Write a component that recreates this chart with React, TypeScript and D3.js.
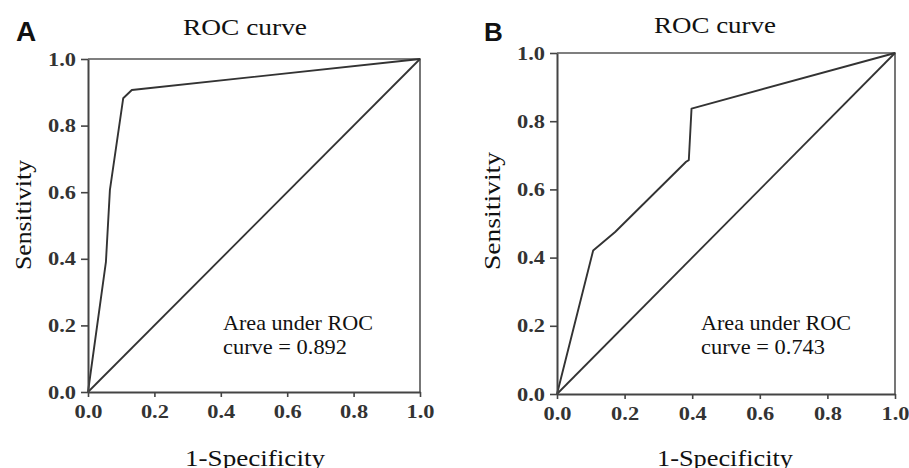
import React, { useRef, useEffect } from "react";
import * as d3 from "d3";

// ROC points (1-specificity, sensitivity)
const fprA = [0, 0.054, 0.066, 0.106, 0.132, 1];
const tprA = [0, 0.391, 0.607, 0.882, 0.907, 1];
const fprB = [0, 0.107, 0.172, 0.382, 0.39, 0.398, 1];
const tprB = [0, 0.421, 0.475, 0.681, 0.686, 0.837, 1];
const aucValues = [0.892, 0.743];
const panelLetters = ["A", "B"];
const axisTicks = [0, 0.2, 0.4, 0.6, 0.8, 1.0];
const titleText = "ROC curve";
const xLabel = "1-Specificity";
const yLabel = "Sensitivity";

const SERIF = "'Liberation Serif', 'Times New Roman', serif";
const INK = "#333";

// pixel placement of each panel's plot area
const panels = [
  { left: 88, right: 420, top: 59, bottom: 392, fpr: fprA, tpr: tprA, letterX: 16, letterY: 41, letterSize: 28, titleX: 183, titleW: 124, titleY: 35, ylabX: 31, ylabY: 215, ylabW: 110, xlabX: 185, xlabW: 140, annX: 223 },
  { left: 557, right: 895, top: 53, bottom: 394, fpr: fprB, tpr: tprB, letterX: 484, letterY: 41, letterSize: 26, titleX: 654, titleW: 122, titleY: 33, ylabX: 500, ylabY: 211, ylabW: 118, xlabX: 657, xlabW: 136, annX: 701 },
];

export default function App() {
  const ref = useRef<SVGSVGElement | null>(null);

  useEffect(() => {
    if (!ref.current) return;
    const svg = d3.select(ref.current);
    svg.selectAll("*").remove();

    panels.forEach((p, i) => {
      const x = d3.scaleLinear().domain([0, 1]).range([p.left, p.right]);
      const y = d3.scaleLinear().domain([0, 1]).range([p.bottom, p.top]);
      const g = svg.append("g");

      // frame top + right
      g.append("path")
        .attr("d", `M${x(0)},${y(1)}H${x(1)}V${y(0)}`)
        .attr("fill", "none")
        .attr("stroke", "#555")
        .attr("stroke-width", 1.6);

      // reference diagonal
      g.append("line")
        .attr("x1", x(0))
        .attr("y1", y(0))
        .attr("x2", x(1))
        .attr("y2", y(1))
        .attr("stroke", INK)
        .attr("stroke-width", 1.8);

      // ROC curve
      const pts = p.fpr.map((f, k) => [f, p.tpr[k]] as [number, number]);
      const line = d3
        .line<[number, number]>()
        .x((d) => x(d[0]))
        .y((d) => y(d[1]));
      g.append("path")
        .attr("d", line(pts))
        .attr("fill", "none")
        .attr("stroke", INK)
        .attr("stroke-width", 1.9)
        .attr("stroke-linejoin", "round");

      const fmt = d3.format(".1f");

      // axes
      const ax = g
        .append("g")
        .attr("transform", `translate(0,${p.bottom})`)
        .call(d3.axisBottom(x).tickValues(axisTicks).tickFormat((d) => fmt(d as number)).tickSize(5).tickSizeOuter(0).tickPadding(8));
      const ay = g
        .append("g")
        .attr("transform", `translate(${p.left},0)`)
        .call(d3.axisLeft(y).tickValues(axisTicks).tickFormat((d) => fmt(d as number)).tickSize(7).tickSizeOuter(0).tickPadding(5));

      [ax, ay].forEach((a) => {
        a.select(".domain").attr("stroke", "#444").attr("stroke-width", 2);
        a.selectAll(".tick line").attr("stroke", "#444").attr("stroke-width", 1.6);
        a.selectAll(".tick text")
          .attr("fill", INK)
          .attr("font-family", SERIF)
          .attr("font-weight", "bold")
          .attr("font-size", 19)
          .attr("textLength", 28)
          .attr("lengthAdjust", "spacingAndGlyphs");
      });

      // panel letter
      svg.append("text")
        .attr("x", p.letterX)
        .attr("y", p.letterY)
        .attr("font-family", "'Liberation Sans', Arial, sans-serif")
        .attr("font-weight", "bold")
        .attr("font-size", p.letterSize)
        .attr("fill", "#111")
        .text(panelLetters[i]);

      // title
      svg.append("text")
        .attr("x", p.titleX)
        .attr("y", p.titleY)
        .attr("font-family", SERIF)
        .attr("font-size", 24)
        .attr("fill", "#111")
        .attr("textLength", p.titleW)
        .attr("lengthAdjust", "spacingAndGlyphs")
        .text(titleText);

      // x label
      svg.append("text")
        .attr("x", p.xlabX)
        .attr("y", 466)
        .attr("font-family", SERIF)
        .attr("font-size", 24)
        .attr("fill", "#111")
        .attr("textLength", p.xlabW)
        .attr("lengthAdjust", "spacingAndGlyphs")
        .text(xLabel);

      // y label
      svg.append("text")
        .attr("transform", `translate(${p.ylabX},${p.ylabY + p.ylabW / 2}) rotate(-90)`)
        .attr("font-family", SERIF)
        .attr("font-size", 24)
        .attr("fill", "#111")
        .attr("textLength", p.ylabW)
        .attr("lengthAdjust", "spacingAndGlyphs")
        .text(yLabel);

      // AUC annotation
      svg.append("text")
        .attr("x", p.annX)
        .attr("y", 330)
        .attr("font-family", SERIF)
        .attr("font-size", 21)
        .attr("fill", "#111")
        .attr("textLength", 150)
        .attr("lengthAdjust", "spacingAndGlyphs")
        .text("Area under ROC");
      svg.append("text")
        .attr("x", p.annX)
        .attr("y", 354)
        .attr("font-family", SERIF)
        .attr("font-size", 21)
        .attr("fill", "#111")
        .attr("textLength", 124)
        .attr("lengthAdjust", "spacingAndGlyphs")
        .text(`curve = ${aucValues[i].toFixed(3)}`);
    });
  }, []);

  return (
    <svg
      ref={ref}
      width={909}
      height={468}
      style={{ position: "absolute", left: 0, top: 0, background: "#fff" }}
    />
  );
}
